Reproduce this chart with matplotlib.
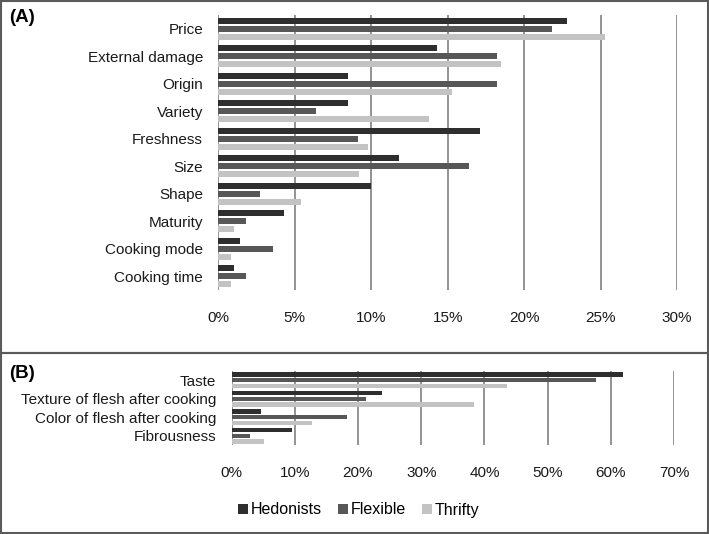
import matplotlib
matplotlib.use("Agg")
from matplotlib import pyplot as plt
from matplotlib.patches import Rectangle
import numpy as np

plt.rcParams['font.family'] = ['Liberation Sans Narrow', 'Liberation Sans', 'DejaVu Sans']

# panel A data (percent)
cats_a = ['Price', 'External damage', 'Origin', 'Variety', 'Freshness', 'Size',
          'Shape', 'Maturity', 'Cooking mode', 'Cooking time']
hed_a = [22.8, 14.3, 8.5, 8.5, 17.1, 11.8, 10.0, 4.3, 1.4, 1.0]
flex_a = [21.8, 18.2, 18.2, 6.4, 9.1, 16.4, 2.7, 1.8, 3.6, 1.8]
thr_a = [25.3, 18.5, 15.3, 13.8, 9.8, 9.2, 5.4, 1.0, 0.8, 0.8]
ticks_a = [0, 5, 10, 15, 20, 25, 30]

# panel B data (percent)
cats_b = ['Taste', 'Texture of flesh after cooking', 'Color of flesh after cooking', 'Fibrousness']
hed_b = [61.9, 23.8, 4.7, 9.5]
flex_b = [57.6, 21.2, 18.2, 3.0]
thr_b = [43.5, 38.4, 12.8, 5.1]
ticks_b = [0, 10, 20, 30, 40, 50, 60, 70]

groups = ['Hedonists', 'Flexible', 'Thrifty']
colors = ['#2e2e2e', '#575757', '#c3c3c3']

fig = plt.figure(figsize=(7.09, 5.34), dpi=100)
W, H = 709, 534

def px_axes(x0, y0, x1, y1):
    return fig.add_axes([x0 / W, 1 - y1 / H, (x1 - x0) / W, (y1 - y0) / H])

def draw_panel(ax, cats, series, ticks, step, hgt):
    y = np.arange(len(cats))
    for k, (vals, c) in enumerate(zip(series, colors)):
        ax.barh(y + (k - 1) * step, vals, height=hgt, color=c, zorder=2, label=groups[k])
    ax.set_ylim(len(cats) - 0.5, -0.5)
    ax.set_xlim(ticks[0], ticks[-1])
    ax.set_xticks(ticks)
    ax.set_xticklabels([f'{t}%' for t in ticks])
    ax.set_yticks(y)
    ax.set_yticklabels(cats)
    for t in ticks:
        ax.axvline(t, color='#808080', lw=1.2, zorder=1)
    for s in ax.spines.values():
        s.set_visible(False)
    ax.tick_params(length=0, labelsize=11, labelcolor='#1a1a1a')
    ax.tick_params(axis='x', pad=15)
    ax.tick_params(axis='y', pad=11)
    ax.set_facecolor('none')

ax_a = px_axes(218.4, 15, 677, 290)
draw_panel(ax_a, cats_a, [hed_a, flex_a, thr_a], ticks_a, 0.29, 0.22)

ax_b = px_axes(231.5, 371, 674.2, 445)
draw_panel(ax_b, cats_b, [hed_b, flex_b, thr_b], ticks_b, 0.306, 0.23)

# panel frames: (A) from top to y=353 px, (B) from y=353 px to bottom
fig.patches.append(Rectangle((1 / W, 1 - 353 / H), 707 / W, 352 / H, transform=fig.transFigure,
                             fill=False, edgecolor='#5a5a5a', lw=1.5))
fig.patches.append(Rectangle((1 / W, 1 / H), 707 / W, 180 / H, transform=fig.transFigure,
                             fill=False, edgecolor='#5a5a5a', lw=1.5))

fig.text(9 / W, 1 - 18 / H, '(A)', fontsize=13.5, fontweight='bold', va='center', ha='left',
         family=['Liberation Sans', 'DejaVu Sans'])
fig.text(9 / W, 1 - 373 / H, '(B)', fontsize=13.5, fontweight='bold', va='center', ha='left',
         family=['Liberation Sans', 'DejaVu Sans'])

handles, labels = ax_b.get_legend_handles_labels()
fig.legend(handles, labels, loc='center', bbox_to_anchor=(359 / W, 1 - 510 / H), ncol=3,
           frameon=False, fontsize=11.5, handlelength=0.6, handleheight=0.6,
           handletextpad=0.2, columnspacing=1.0)

fig.savefig('out.png', dpi=100)
